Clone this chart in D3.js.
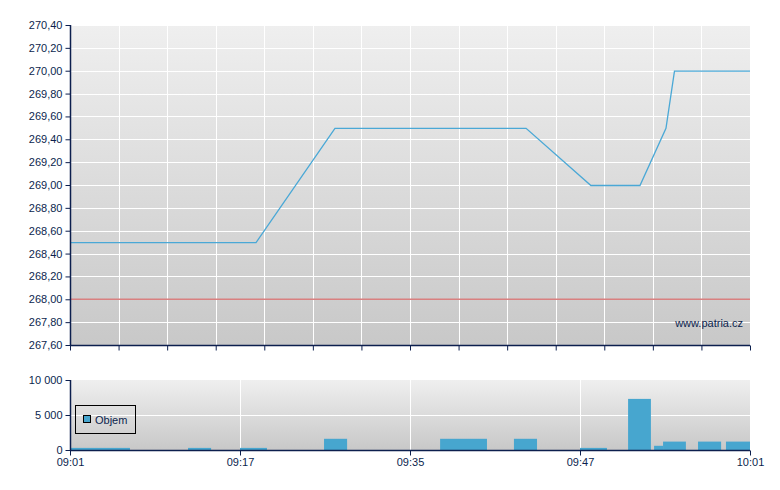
<!DOCTYPE html>
<html>
<head>
<meta charset="utf-8">
<script src="https://cdn.jsdelivr.net/npm/d3@7"></script>
<style>
  body { margin: 0; background: #fff; }
  svg text { font-family: "Liberation Sans", Arial, sans-serif; font-size: 11px; fill: #0c1f4e; }
</style>
</head>
<body>
<div id="chart"></div>
<script>
// price line: x in slot units (0..28), y = price
var priceX = [0, 7.66, 10.91, 18.78, 21.45, 23.47, 24.54, 24.89, 28];
var priceY = [268.5, 268.5, 269.5, 269.5, 269.0, 269.0, 269.5, 270.0, 270.0];
var refPrice = 268.0;
var priceTicks = [267.6, 267.8, 268.0, 268.2, 268.4, 268.6, 268.8, 269.0, 269.2, 269.4, 269.6, 269.8, 270.0, 270.2, 270.4];

// volume bars: start, end (slot units), value
var volStart = [0, 4.86, 7.0, 10.46, 15.24, 18.28, 21.0, 22.98, 24.05, 24.42, 25.86, 27.01];
var volEnd = [2.47, 5.81, 8.11, 11.41, 17.17, 19.23, 22.11, 23.92, 24.42, 25.36, 26.81, 28];
var volValue = [300, 300, 300, 1600, 1600, 1600, 300, 7300, 600, 1200, 1200, 1200];
var volTicks = [0, 5000, 10000];

var timeTicks = [0, 7, 14, 21, 28];
var timeLabels = ['09:01', '09:17', '09:35', '09:47', '10:01'];

const LEFT = 70, RIGHT = 750;
const TOP1 = 25, BOT1 = 345;
const TOP2 = 380, BOT2 = 450;
const AXIS = '#0c1f4e';

var svg = d3.select('#chart').append('svg')
  .attr('width', 780).attr('height', 490);

var defs = svg.append('defs');
var grad = defs.append('linearGradient').attr('id', 'bg')
  .attr('x1', 0).attr('y1', 0).attr('x2', 0).attr('y2', 1);
grad.append('stop').attr('offset', '0%').attr('stop-color', '#efefef');
grad.append('stop').attr('offset', '100%').attr('stop-color', '#c8c8c8');

var x = d3.scaleLinear().domain([0, 28]).range([LEFT, RIGHT]);
var y1 = d3.scaleLinear().domain([267.6, 270.4]).range([BOT1, TOP1]);
var y2 = d3.scaleLinear().domain([0, 10000]).range([BOT2, TOP2]);

var fmtPrice = function (d) { return d3.format('.2f')(d).replace('.', ','); };
var fmtVol = function (d) { return d3.format(',')(d).replace(/,/g, ' '); };

// ---- price panel
svg.append('rect').attr('x', LEFT).attr('y', TOP1)
  .attr('width', RIGHT - LEFT).attr('height', BOT1 - TOP1).attr('fill', 'url(#bg)');

var g1 = svg.append('g');
g1.selectAll('.hgrid').data(priceTicks.slice(1)).enter().append('line')
  .attr('x1', LEFT).attr('x2', RIGHT)
  .attr('y1', function (d) { return Math.round(y1(d)) + 0.5; })
  .attr('y2', function (d) { return Math.round(y1(d)) + 0.5; })
  .attr('stroke', '#fff').attr('stroke-width', 1);
g1.selectAll('.vgrid').data(d3.range(2, 28, 2)).enter().append('line')
  .attr('y1', TOP1).attr('y2', BOT1)
  .attr('x1', function (d) { return Math.round(x(d)) + 0.5; })
  .attr('x2', function (d) { return Math.round(x(d)) + 0.5; })
  .attr('stroke', '#fff').attr('stroke-width', 1);

g1.append('line')
  .attr('x1', LEFT).attr('x2', RIGHT)
  .attr('y1', y1(refPrice)).attr('y2', y1(refPrice))
  .attr('stroke', '#d98080').attr('stroke-width', 1.5);

var line = d3.line()
  .x(function (d) { return x(d[0]); })
  .y(function (d) { return y1(d[1]) + 0.5; });
g1.append('path')
  .datum(d3.zip(priceX, priceY))
  .attr('d', line)
  .attr('fill', 'none').attr('stroke', '#4aa8d6').attr('stroke-width', 1.3);

svg.append('text').attr('x', 743).attr('y', 327)
  .attr('text-anchor', 'end').text('www.patria.cz');

var yAxis1 = d3.axisLeft(y1).tickValues(priceTicks).tickFormat(fmtPrice).tickSize(5).tickPadding(3);
var ya1 = svg.append('g').attr('transform', 'translate(' + (LEFT + 0.5) + ',0)').call(yAxis1);
var xAxis1 = d3.axisBottom(x).tickValues(d3.range(0, 29, 2)).tickFormat('').tickSize(5);
var xa1 = svg.append('g').attr('transform', 'translate(0,' + (BOT1 + 0.5) + ')').call(xAxis1);

// ---- volume panel
svg.append('rect').attr('x', LEFT).attr('y', TOP2)
  .attr('width', RIGHT - LEFT).attr('height', BOT2 - TOP2).attr('fill', 'url(#bg)');

var g2 = svg.append('g');
g2.selectAll('.hgrid').data(volTicks.slice(1, 2)).enter().append('line')
  .attr('x1', LEFT).attr('x2', RIGHT)
  .attr('y1', function (d) { return Math.round(y2(d)) + 0.5; })
  .attr('y2', function (d) { return Math.round(y2(d)) + 0.5; })
  .attr('stroke', '#fff');
g2.selectAll('.vgrid').data(timeTicks.slice(1, -1)).enter().append('line')
  .attr('y1', TOP2).attr('y2', BOT2)
  .attr('x1', function (d) { return Math.round(x(d)) + 0.5; })
  .attr('x2', function (d) { return Math.round(x(d)) + 0.5; })
  .attr('stroke', '#fff');

g2.selectAll('.bar').data(volValue).enter().append('rect')
  .attr('x', function (d, i) { return x(volStart[i]); })
  .attr('width', function (d, i) { return x(volEnd[i]) - x(volStart[i]); })
  .attr('y', function (d) { return y2(d); })
  .attr('height', function (d) { return BOT2 - y2(d); })
  .attr('fill', '#47a6cf');

var yAxis2 = d3.axisLeft(y2).tickValues(volTicks).tickFormat(fmtVol).tickSize(5).tickPadding(3);
var ya2 = svg.append('g').attr('transform', 'translate(' + (LEFT + 0.5) + ',0)').call(yAxis2);
var xAxis2 = d3.axisBottom(x).tickValues(timeTicks)
  .tickFormat(function (d, i) { return timeLabels[i]; }).tickSize(5).tickPadding(3);
var xa2 = svg.append('g').attr('transform', 'translate(0,' + (BOT2 + 0.5) + ')').call(xAxis2);

[ya1, xa1, ya2, xa2].forEach(function (a) {
  a.selectAll('path, line').attr('stroke', AXIS);
  a.select('.domain').attr('stroke-width', 1.5);
  a.selectAll('text').attr('fill', AXIS).style('font-family', '"Liberation Sans", Arial, sans-serif').style('font-size', '11px');
});
ya1.select('.domain').attr('d', 'M0,' + TOP1 + 'V' + BOT1);
ya2.select('.domain').attr('d', 'M0,' + TOP2 + 'V' + BOT2);
xa1.select('.domain').attr('d', 'M' + LEFT + ',0H' + RIGHT);
xa2.select('.domain').attr('d', 'M' + LEFT + ',0H' + RIGHT);

// legend
var leg = svg.append('g');
leg.append('rect').attr('x', 75.5).attr('y', 405.5).attr('width', 60).attr('height', 28)
  .attr('fill', 'none').attr('stroke', '#000');
leg.append('rect').attr('x', 83.5).attr('y', 415.5).attr('width', 7).attr('height', 7)
  .attr('fill', '#47a6cf').attr('stroke', '#000');
leg.append('text').attr('x', 95).attr('y', 424).attr('fill', '#000').text('Objem');
</script>
</body>
</html>
